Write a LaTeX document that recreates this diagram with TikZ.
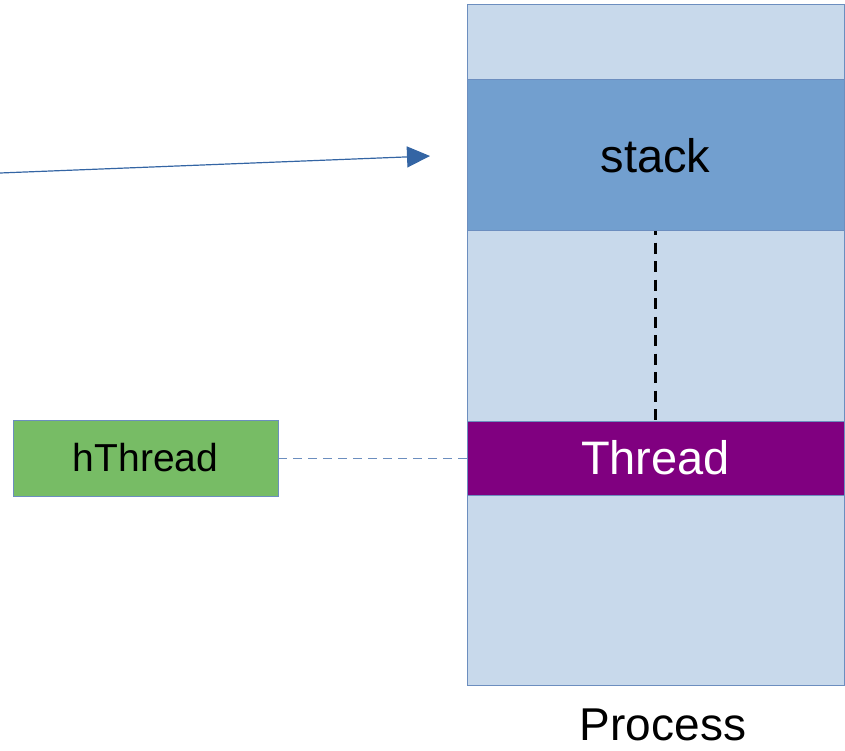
\documentclass[tikz,border=0pt]{standalone}
\usepackage{fontspec}
\setmainfont{Liberation Sans}
\usetikzlibrary{arrows.meta}
\definecolor{procfill}{RGB}{200,217,235}
\definecolor{procline}{RGB}{108,142,191}
\definecolor{stackfill}{RGB}{114,159,207}
\definecolor{threadfill}{RGB}{128,0,128}
\definecolor{hfill}{RGB}{119,188,101}
\definecolor{arrowcol}{RGB}{52,101,164}
\begin{document}
\begin{tikzpicture}[x=1pt,y=-1pt,
  band/.style={draw=procline, line width=1pt, inner sep=0pt, outer sep=0pt},
  bigtext/.style={font=\fontsize{47}{56}\selectfont}
]
\useasboundingbox (0,0) rectangle (845,751);
% process
\node[band, fill=procfill, minimum width=377pt, minimum height=680pt, anchor=north west] (proc) at (467,5) {};
\node[band, fill=stackfill, minimum width=377pt, minimum height=151pt, anchor=north west, bigtext] (stack) at (467,80) {stack};
\node[band, fill=threadfill, minimum width=377pt, minimum height=74pt, anchor=north west, bigtext, text=white] (thread) at (467,421) {Thread};
\node[band, fill=hfill, minimum width=265pt, minimum height=76pt, anchor=north west, font=\fontsize{39}{47}\selectfont] (hthread) at (13,420) {hThread};
\node[font=\fontsize{46}{55}\selectfont, inner sep=0pt, anchor=base] (plabel) at (663,740) {Process};
% connectors
\draw[black, line width=2.5pt, dash pattern=on 11pt off 7.5pt, dash phase=7pt] (stack.south) -- (thread.north);
\draw[procline, line width=1pt, dash pattern=on 9pt off 6pt] (hthread.east) -- (thread.west);
\coordinate (from) at (0,173);
\coordinate (to) at (430,156);
\draw[arrowcol, line width=1.2pt, -{Triangle[length=23pt,width=21pt]}] (from) -- (to);
\end{tikzpicture}
\end{document}
